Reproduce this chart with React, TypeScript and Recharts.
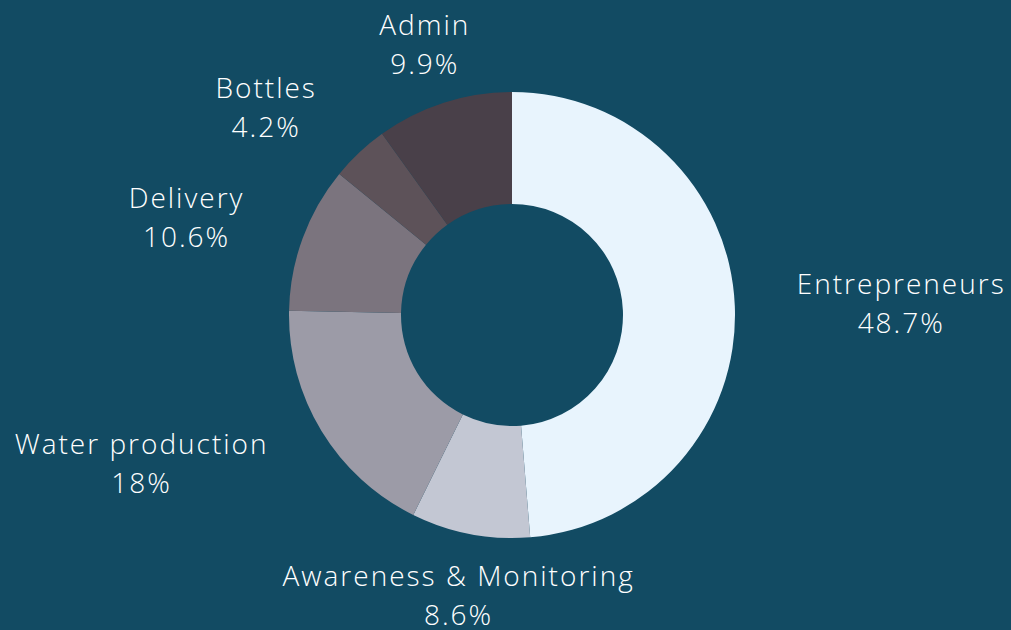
import { Cell, Pie, PieChart } from "recharts"

const categories = [
  "Entrepreneurs",
  "Awareness & Monitoring",
  "Water production",
  "Delivery",
  "Bottles",
  "Admin",
]
const shares = [48.7, 8.6, 18, 10.6, 4.2, 9.9]
const colors = ["#e8f4fd", "#c3c7d3", "#9c9ba7", "#7b747e", "#5d5259", "#494049"]

const data = categories.map((name, i) => ({ name, value: shares[i] }))

const FONT = "'Open Sans', sans-serif"
const FONT_SIZE = 28
const SPACING = 2
const RAD = Math.PI / 180

let ctx: CanvasRenderingContext2D | null = null
function textWidth(s: string) {
  if (!ctx) ctx = document.createElement("canvas").getContext("2d")
  if (!ctx) return s.length * FONT_SIZE * 0.6
  ctx.font = `300 ${FONT_SIZE}px ${FONT}`
  return ctx.measureText(s).width + s.length * SPACING
}

function renderLabel(props: any) {
  const { cx, cy, midAngle, outerRadius, name, value } = props
  const r = outerRadius + 62
  const cos = Math.cos(-midAngle * RAD)
  const sin = Math.sin(-midAngle * RAD)
  const x = cx + r * cos
  const y = cy + r * sin
  const line2 = `${value}%`
  const w = Math.max(textWidth(name), textWidth(line2))
  // block anchor: centered near top/bottom, otherwise pushed away from the ring
  let mx = x
  if (Math.abs(cos) > 0.4) mx = cos > 0 ? x + w / 2 : x - w / 2
  const style = { letterSpacing: SPACING }
  return (
    <g>
      <text x={mx} y={y - 20} fill="#ffffff" textAnchor="middle" dominantBaseline="central" fontSize={FONT_SIZE} fontWeight={300} fontFamily={FONT} style={style}>
        {name}
      </text>
      <text x={mx} y={y + 19} fill="#ffffff" textAnchor="middle" dominantBaseline="central" fontSize={FONT_SIZE} fontWeight={300} fontFamily={FONT} style={style}>
        {line2}
      </text>
    </g>
  )
}

export default function App() {
  return (
    <div style={{ position: "fixed", left: 0, top: 0, width: 1011, height: 630, background: "#124b63" }}>
      <PieChart width={1011} height={630} margin={{ top: 0, right: 0, bottom: 0, left: 0 }}>
        <Pie
          data={data}
          dataKey="value"
          nameKey="name"
          cx={512}
          cy={315}
          innerRadius={111}
          outerRadius={223}
          startAngle={90}
          endAngle={-270}
          stroke="none"
          label={renderLabel}
          labelLine={false}
          isAnimationActive={false}
        >
          {data.map((d, i) => (
            <Cell key={d.name} fill={colors[i]} />
          ))}
        </Pie>
      </PieChart>
    </div>
  )
}
